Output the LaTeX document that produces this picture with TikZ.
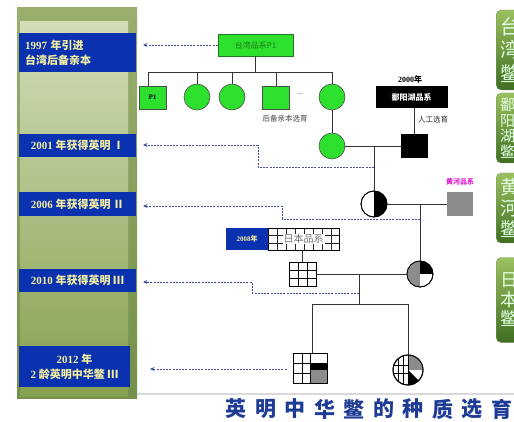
\documentclass[tikz,border=0pt]{standalone}
\usepackage{fontspec}
\setmainfont{Liberation Serif}
\newfontfamily\cjk{Noto Sans CJK SC}
\usetikzlibrary{arrows.meta}
\definecolor{blueL}{HTML}{0A32B0}
\definecolor{labT}{HTML}{F4EFA0}
\definecolor{grnF}{HTML}{2EE02E}
\definecolor{grnD}{HTML}{1E7A1E}
\definecolor{dashC}{HTML}{4050A0}
\definecolor{magT}{HTML}{E020D0}
\definecolor{titleC}{HTML}{1E3C96}
\definecolor{panA}{HTML}{9AAF6E}
\definecolor{panB}{HTML}{74904A}
\definecolor{inA}{HTML}{D3DDB8}
\definecolor{inB}{HTML}{86A050}
\definecolor{tabA}{HTML}{9CC060}
\definecolor{tabB}{HTML}{3F6E22}
\definecolor{grayF}{HTML}{8C8C8C}
\begin{document}
\begin{tikzpicture}[x=1pt,y=-1pt,
  lab/.style={fill=blueL, text=labT, font=\cjk\bfseries\fontsize{11}{15}\selectfont, inner sep=0pt, minimum width=117pt, align=center},
  darr/.style={draw=dashC, line width=0.8pt, dash pattern=on 2pt off 1.2pt, -{Stealth[length=4.5pt,width=4pt]}},
  ped/.style={draw=black!80, line width=0.7pt},
  gcirc/.style={circle, draw=black!70, fill=grnF, minimum size=26pt, inner sep=0pt, line width=0.6pt},
  gsqr/.style={rectangle, draw=black!70, fill=grnF, minimum width=27pt, minimum height=23pt, inner sep=0pt, line width=0.6pt},
  wcirc/.style={circle, draw=black, fill=white, inner sep=0pt, line width=0.8pt},
  small/.style={font=\cjk\fontsize{7.5}{9}\selectfont, inner sep=0pt},
  tab/.style={rectangle, rounded corners=5pt, draw=tabB!70, top color=tabA, bottom color=tabB, text=white!88!green, anchor=west, align=left, inner xsep=4pt, text width=30pt},
  ttl/.style={font=\cjk\bfseries\fontsize{21}{24}\selectfont, text=titleC, inner sep=0pt}]
\useasboundingbox (0,0) rectangle (514,422);
\fill[white] (0,0) rectangle (514,422);

% left panel
\shade[top color=panA, bottom color=panB] (17,8) rectangle (137,398);
\shade[top color=inA, bottom color=inB] (20,22) rectangle (128,396);
\draw[gray!30, line width=1.5pt] (137,394) -- (514,394);

% blue labels
\node[lab, minimum height=39pt, text width=105pt, inner xsep=6pt, align=left] (L1) at (77.5,52.5) {{\rmfamily\bfseries 1997} 年引进\\台湾后备亲本};
\node[lab, minimum height=23pt] (L2) at (77.5,145.5) {{\rmfamily\bfseries 2001} 年获得英明 Ⅰ};
\node[lab, minimum height=24pt] (L3) at (77.5,204) {{\rmfamily\bfseries 2006} 年获得英明 Ⅱ};
\node[lab, minimum height=23pt] (L4) at (77.5,280.5) {{\rmfamily\bfseries 2010} 年获得英明 Ⅲ};
\node[lab, minimum height=41pt, minimum width=111pt] (L5) at (74.5,366.5) {{\rmfamily\bfseries 2012} 年\\{\rmfamily\bfseries 2} 龄英明中华鳖 Ⅲ};

% generation 0
\node[rectangle, draw=grnD, fill=grnF, minimum width=75pt, minimum height=22pt, inner sep=0pt, text=grnD, font=\cjk\fontsize{8}{9}\selectfont] (tw) at (255.5,45) {台湾品系P1};
\coordinate (h0) at (148,72);
\coordinate (h1) at (332,72);
\draw[ped] (tw.south) -- (tw.south |- h0);
\draw[ped] (h0) -- (h1);
\node[gsqr] (p1) at (152.5,97.5) {\rmfamily\bfseries\fontsize{7}{8}\selectfont P1};
\node[gcirc] (c1) at (197,97) {};
\node[gcirc] (c2) at (232,97) {};
\node[gsqr] (s2) at (276,97.5) {};
\node[gcirc] (c3) at (332,97) {};
\node[inner sep=0pt, font=\rmfamily\fontsize{8}{9}\selectfont, text=black!70] (dots) at (300,94) {...};
\draw[ped] (h0) -- (h0 |- p1.north);
\draw[ped] (c1.north |- h0) -- (c1.north);
\draw[ped] (c2.north |- h0) -- (c2.north);
\draw[ped] (s2.north |- h0) -- (s2.north);
\draw[ped] (h1) -- (c3.north);
\node[small, text=black!75] (hb) at (285,119) {后备亲本选育};

% generation 1
\node[gcirc] (c4) at (332,146) {};
\draw[ped] (c3.south) -- (c4.north);
\node[rectangle, fill=black, draw=black, minimum width=26pt, minimum height=23pt, inner sep=0pt] (bs) at (414,146) {};
\node[rectangle, fill=black, minimum width=72pt, minimum height=22pt, inner sep=0pt, text=white, font=\cjk\bfseries\fontsize{8}{9}\selectfont] (py) at (411.5,97) {鄱阳湖品系};
\node[font=\cjk\bfseries\fontsize{8}{9}\selectfont, inner sep=0pt] (y2000) at (410,79) {{\rmfamily\bfseries 2000}年};
\draw[ped] (bs.north |- py.south) -- (bs.north);
\node[small, text=black!85] (rg) at (433,120) {人工选育};
\draw[ped] (c4.east) -- (bs.west);
\coordinate (m1) at (374,146);

% generation 2
\node[wcirc, minimum size=26pt] (hc) at (374,204) {};
\begin{scope}
  \clip (hc.center) circle[radius=13pt];
  \fill[black] (hc.north) rectangle ([xshift=14pt]hc.south);
\end{scope}
\node[wcirc, minimum size=26pt, fill=none] (hc2) at (hc.center) {};
\draw[ped] (m1) -- (hc.north);
\node[rectangle, fill=grayF, minimum width=26pt, minimum height=24pt, inner sep=0pt] (gs) at (460,204) {};
\node[font=\cjk\bfseries\fontsize{7}{8}\selectfont, text=magT, inner sep=0pt] (hh) at (460,182) {黄河品系};
\draw[ped] (hc.east) -- (gs.west);
\coordinate (m2) at (420,204);

% generation 3
\node[wcirc, minimum size=26pt] (qc) at (420,274) {};
\begin{scope}
  \clip (qc.center) circle[radius=13pt];
  \fill[grayF] ([xshift=-14pt]qc.north) rectangle (qc.south);
  \fill[black] (qc.north) rectangle ([xshift=14pt]qc.center);
\end{scope}
\node[wcirc, minimum size=26pt, fill=none] (qc2) at (qc.center) {};
\draw[ped] (m2) -- (qc.north);

\node[rectangle, fill=blueL, minimum width=42pt, minimum height=22pt, inner sep=0pt, text=labT, font=\cjk\bfseries\fontsize{7}{8}\selectfont] (y08) at (247,239) {{\rmfamily\bfseries 2008}年};
\node[rectangle, draw=black, fill=white, minimum width=71pt, minimum height=22pt, inner sep=0pt] (jp) at (303.5,239) {};
\foreach \xx in {277,286,295,304,313,322,331} \draw[black!85, line width=0.6pt] (\xx,228) -- (\xx,250);
\foreach \yy in {235.5,243} \draw[black!85, line width=0.6pt] (268,\yy) -- (339,\yy);
\node[fill=white, inner xsep=1pt, inner ysep=0.5pt, text=black!55, font=\cjk\fontsize{10}{11}\selectfont] (jpt) at (jp.center) {日本品系};

\node[rectangle, draw=black, fill=white, minimum width=27pt, minimum height=24pt, inner sep=0pt, line width=0.7pt] (gq) at (302.5,274) {};
\draw[black, line width=0.6pt] (298,262) -- (298,286) (307,262) -- (307,286) (289,270) -- (316,270) (289,278) -- (316,278);
\draw[ped] (jp.south -| gq.north) -- (gq.north);
\draw[ped] (gq.east) -- (qc.west);
\coordinate (m3) at (359,274);
\coordinate (b0) at (359,304);
\coordinate (bl) at (312,304);
\coordinate (br) at (408,304);
\draw[ped] (m3) -- (b0);
\draw[ped] (bl) -- (br);

% generation 4
\node[rectangle, draw=black, fill=white, minimum width=34pt, minimum height=30pt, inner sep=0pt, line width=0.7pt] (bq) at (310,368) {};
\fill[black] (310,363) rectangle (327,370);
\fill[grayF] (310,370) rectangle (327,383);
\draw[black, line width=0.6pt] (302,353) -- (302,383) (310,353) -- (310,383) (293,363) -- (310,363) (293,373) -- (310,373) (310,363) -- (327,363);
\node[rectangle, draw=black, minimum width=34pt, minimum height=30pt, inner sep=0pt, line width=0.7pt] (bq2) at (bq.center) {};
\draw[ped] (bl) -- (bl |- bq.north);

\node[wcirc, minimum size=30pt] (bc) at (408,370) {};
\begin{scope}
  \clip (bc.center) circle[radius=15pt];
  \fill[grayF] (bc.north) rectangle ([xshift=16pt]bc.center);
  \fill[black] (bc.center) -- ([shift={(-45:20pt)}]bc.center) -- ([shift={(-90:20pt)}]bc.center) -- cycle;
  \draw[black, line width=0.6pt] (398,352) -- (398,388) (403,352) -- (403,388) (390,365) -- (408,365) (390,373) -- (408,373);
  \draw[black, line width=0.6pt] (408,352) -- (408,388);
\end{scope}
\node[wcirc, minimum size=30pt, fill=none, line width=1pt] (bc2) at (bc.center) {};
\draw[ped] (br) -- (bc.north);

% dashed arrows
\coordinate (a1) at (143,45);
\coordinate (a2) at (143,145);
\coordinate (a3) at (143,206);
\coordinate (a4) at (143,282);
\coordinate (a5) at (150,369);
\coordinate (d2) at (374,167);
\coordinate (d3) at (420,219);
\coordinate (d4) at (359,293);
\draw[darr] (tw.west) -- (a1);
\draw[darr] (d2) -- (258,167) -- (258,145) -- (a2);
\draw[darr] (d3) -- (282,219) -- (282,206) -- (a3);
\draw[darr] (d4) -- (252,293) -- (252,282) -- (a4);
\draw[darr] ([xshift=-6pt]bq.west |- a5) -- (a5);

% right tabs (cut by the right edge, as in the reference)
\begin{scope}
  \clip (0,0) rectangle (514,422);
  \node[tab, minimum height=80pt, font=\cjk\fontsize{20}{23.5}\selectfont] (tb1) at (496,50) {台\\湾\\鳖};
  \node[tab, minimum height=70pt, font=\cjk\fontsize{15}{15.5}\selectfont] (tb2) at (496,128) {鄱\\阳\\湖\\鳖};
  \node[tab, minimum height=70pt, font=\cjk\fontsize{19}{21}\selectfont] (tb3) at (496,208) {黄\\河\\鳖};
  \node[tab, minimum height=85pt, font=\cjk\fontsize{18}{19.5}\selectfont] (tb4) at (496,300) {日\\本\\鳖};
\end{scope}

% title
\begin{scope}
  \clip (0,0) rectangle (514,422);
  \foreach \c [count=\i from 0] in {英,明,中,华,鳖,的,种,质,选,育}
    \node[ttl] (t\i) at (236+29.5*\i,409) {\c};
\end{scope}
\end{tikzpicture}
\end{document}
